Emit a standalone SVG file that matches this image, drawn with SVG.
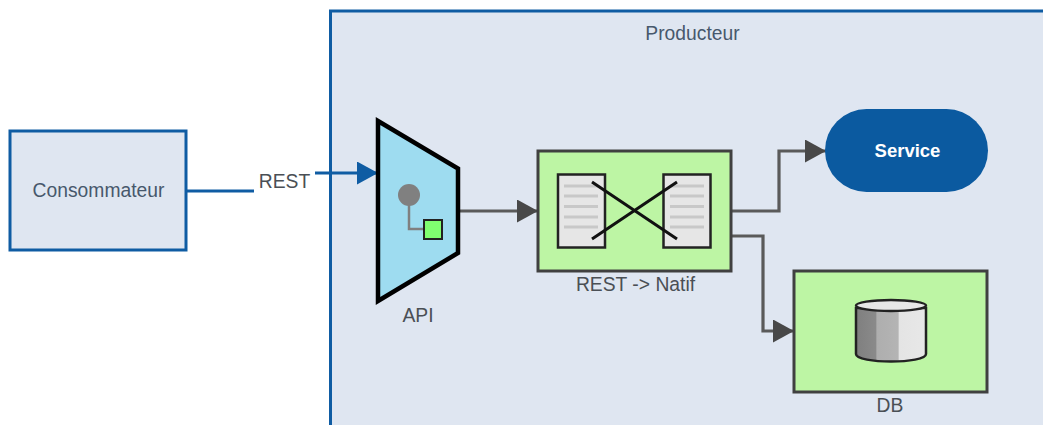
<svg xmlns="http://www.w3.org/2000/svg" width="1043" height="425" viewBox="0 0 1043 425">
<style>
text{font-family:"Liberation Sans",Arial,sans-serif;font-size:19.300px;text-anchor:middle;fill:#4a4f55}
.bt{fill:#47586c}
.blue{fill:none;stroke:#0f5ca3;stroke-width:3}
.gray{fill:none;stroke:#5a5a5a;stroke-width:3.200}
.box{fill:#bdf5a4;stroke:#404040;stroke-width:3}
.doc{fill:#e6e6e6;stroke:#222;stroke-width:2.500}
.dl{stroke:#c8c8c8;stroke-width:3}
.x{stroke:#111;stroke-width:3}
</style>
<defs>
<marker id="ag" markerUnits="userSpaceOnUse" markerWidth="22" markerHeight="24" refX="21" refY="11.500" orient="auto"><path d="M0 0L21 11.500L0 23Z" fill="#484848"/></marker>
<marker id="ab" markerUnits="userSpaceOnUse" markerWidth="22" markerHeight="24" refX="21" refY="11.500" orient="auto"><path d="M0 0L21 11.500L0 23Z" fill="#0f5ca3"/></marker>
<linearGradient id="cyl"><stop offset="0" stop-color="#7f7f7f"/><stop offset=".28" stop-color="#8a8a8a"/><stop offset=".3" stop-color="#aeaeae"/><stop offset=".6" stop-color="#b4b4b4"/><stop offset=".62" stop-color="#e4e4e4"/><stop offset="1" stop-color="#e8e8e8"/></linearGradient>
</defs>
<g id="producteur"><path d="M330.500 425V11H1043V425Z" fill="#dfe6f1"/><path d="M330.500 425V11H1043" fill="none" stroke="#0f5ca3" stroke-width="3"/><text class="bt" x="692.500" y="40">Producteur</text></g>
<g id="consommateur"><rect x="10" y="131" width="176" height="119" fill="#dfe6f1" stroke="#0f5ca3" stroke-width="3"/><text class="bt" x="98.500" y="197">Consommateur</text></g>
<g id="connectors">
<path class="blue" d="M187 191H254"/>
<path class="blue" d="M315 173H378" marker-end="url(#ab)"/>
<path class="gray" d="M459 211H538" marker-end="url(#ag)"/>
<path class="gray" d="M731 211H779V151H826" marker-end="url(#ag)"/>
<path class="gray" d="M731 236H763V331H794" marker-end="url(#ag)"/>
</g>
<text id="rest-label" x="284.500" y="188">REST</text>
<g id="api"><path d="M378 121L458 168.500V253L378 301Z" fill="#9edcf0" stroke="#000" stroke-width="4.500"/><path d="M409 195V229H424" fill="none" stroke="#808080" stroke-width="2.500"/><circle cx="409" cy="195" r="11" fill="#808080"/><rect x="424" y="220" width="18" height="19" fill="#80ff70" stroke="#222" stroke-width="2"/><text x="418" y="322">API</text></g>
<g id="transform"><rect class="box" x="538" y="151" width="193" height="120"/>
<rect class="doc" x="558" y="174.500" width="47" height="73"/><rect class="doc" x="663.500" y="174.500" width="47" height="73"/>
<path class="dl" d="M564 186H598M564 196H598M564 206.500H598M564 217H598M564 227H598M670 186H704M670 196H704M670 206.500H704M670 217H704M670 227H704"/>
<path class="x" d="M592 182L677 239M592 239L677 182"/>
<text x="635.500" y="291">REST -&gt; Natif</text></g>
<g id="service"><rect x="825" y="109" width="163" height="83" rx="41.500" fill="#0b5aa0"/><text x="907.500" y="157" style="fill:#fff;font-weight:bold;font-size:18.500px">Service</text></g>
<g id="db"><rect class="box" x="794" y="271" width="193" height="121"/>
<path d="M856 308V354C856 364 926 364 926 354V308Z" fill="url(#cyl)" stroke="#222" stroke-width="2.500"/>
<ellipse cx="891" cy="305.500" rx="35" ry="5.500" fill="#e8e8e8" stroke="#222" stroke-width="2.500"/>
<text x="890" y="412">DB</text></g>
</svg>
